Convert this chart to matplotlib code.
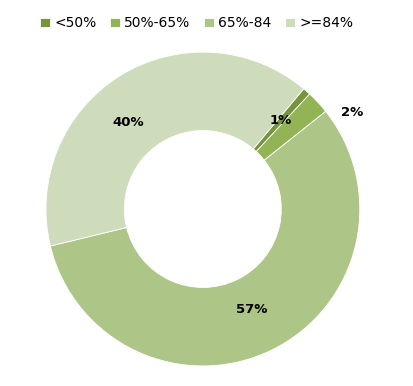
import numpy as np
import matplotlib.pyplot as plt

# categorias y porcentajes
categorias = ['<50%', '50%-65%', '65%-84', '>=84%']
valores = [0.8, 2.4, 56.9, 39.9]
colores = ['#77933C', '#93B454', '#ADC586', '#CFDCBC']

fig = plt.figure(figsize=(4.14, 3.86), dpi=100)
ax = fig.add_axes([0.111, 0.052, 0.758, 0.813])

wedges, _ = ax.pie(valores, colors=colores, startangle=50, counterclock=False,
                   radius=1, wedgeprops=dict(width=0.5, edgecolor='white', linewidth=0.6))

# posicion de etiquetas (radio, desplazamiento angular)
pos_etq = [(0.75, 0), (1.13, -10), (0.71, 0), (0.73, 9)]
for w, v, (r, da) in zip(wedges, valores, pos_etq):
    ang = np.deg2rad((w.theta1 + w.theta2) / 2 + da)
    ax.text(r * np.cos(ang), r * np.sin(ang), f'{round(v):.0f}%',
            ha='center', va='center', fontsize=9.5, fontweight='bold', color='black')

ax.set_xlim(-1, 1)
ax.set_ylim(-1, 1)
ax.set_aspect('equal')

fig.legend(wedges, categorias, loc='upper center', bbox_to_anchor=(0.475, 0.99),
           ncol=4, frameon=False, fontsize=10, handlelength=0.7, handleheight=0.7,
           handletextpad=0.3, columnspacing=1.0)

fig.savefig('out.png', dpi=100)
